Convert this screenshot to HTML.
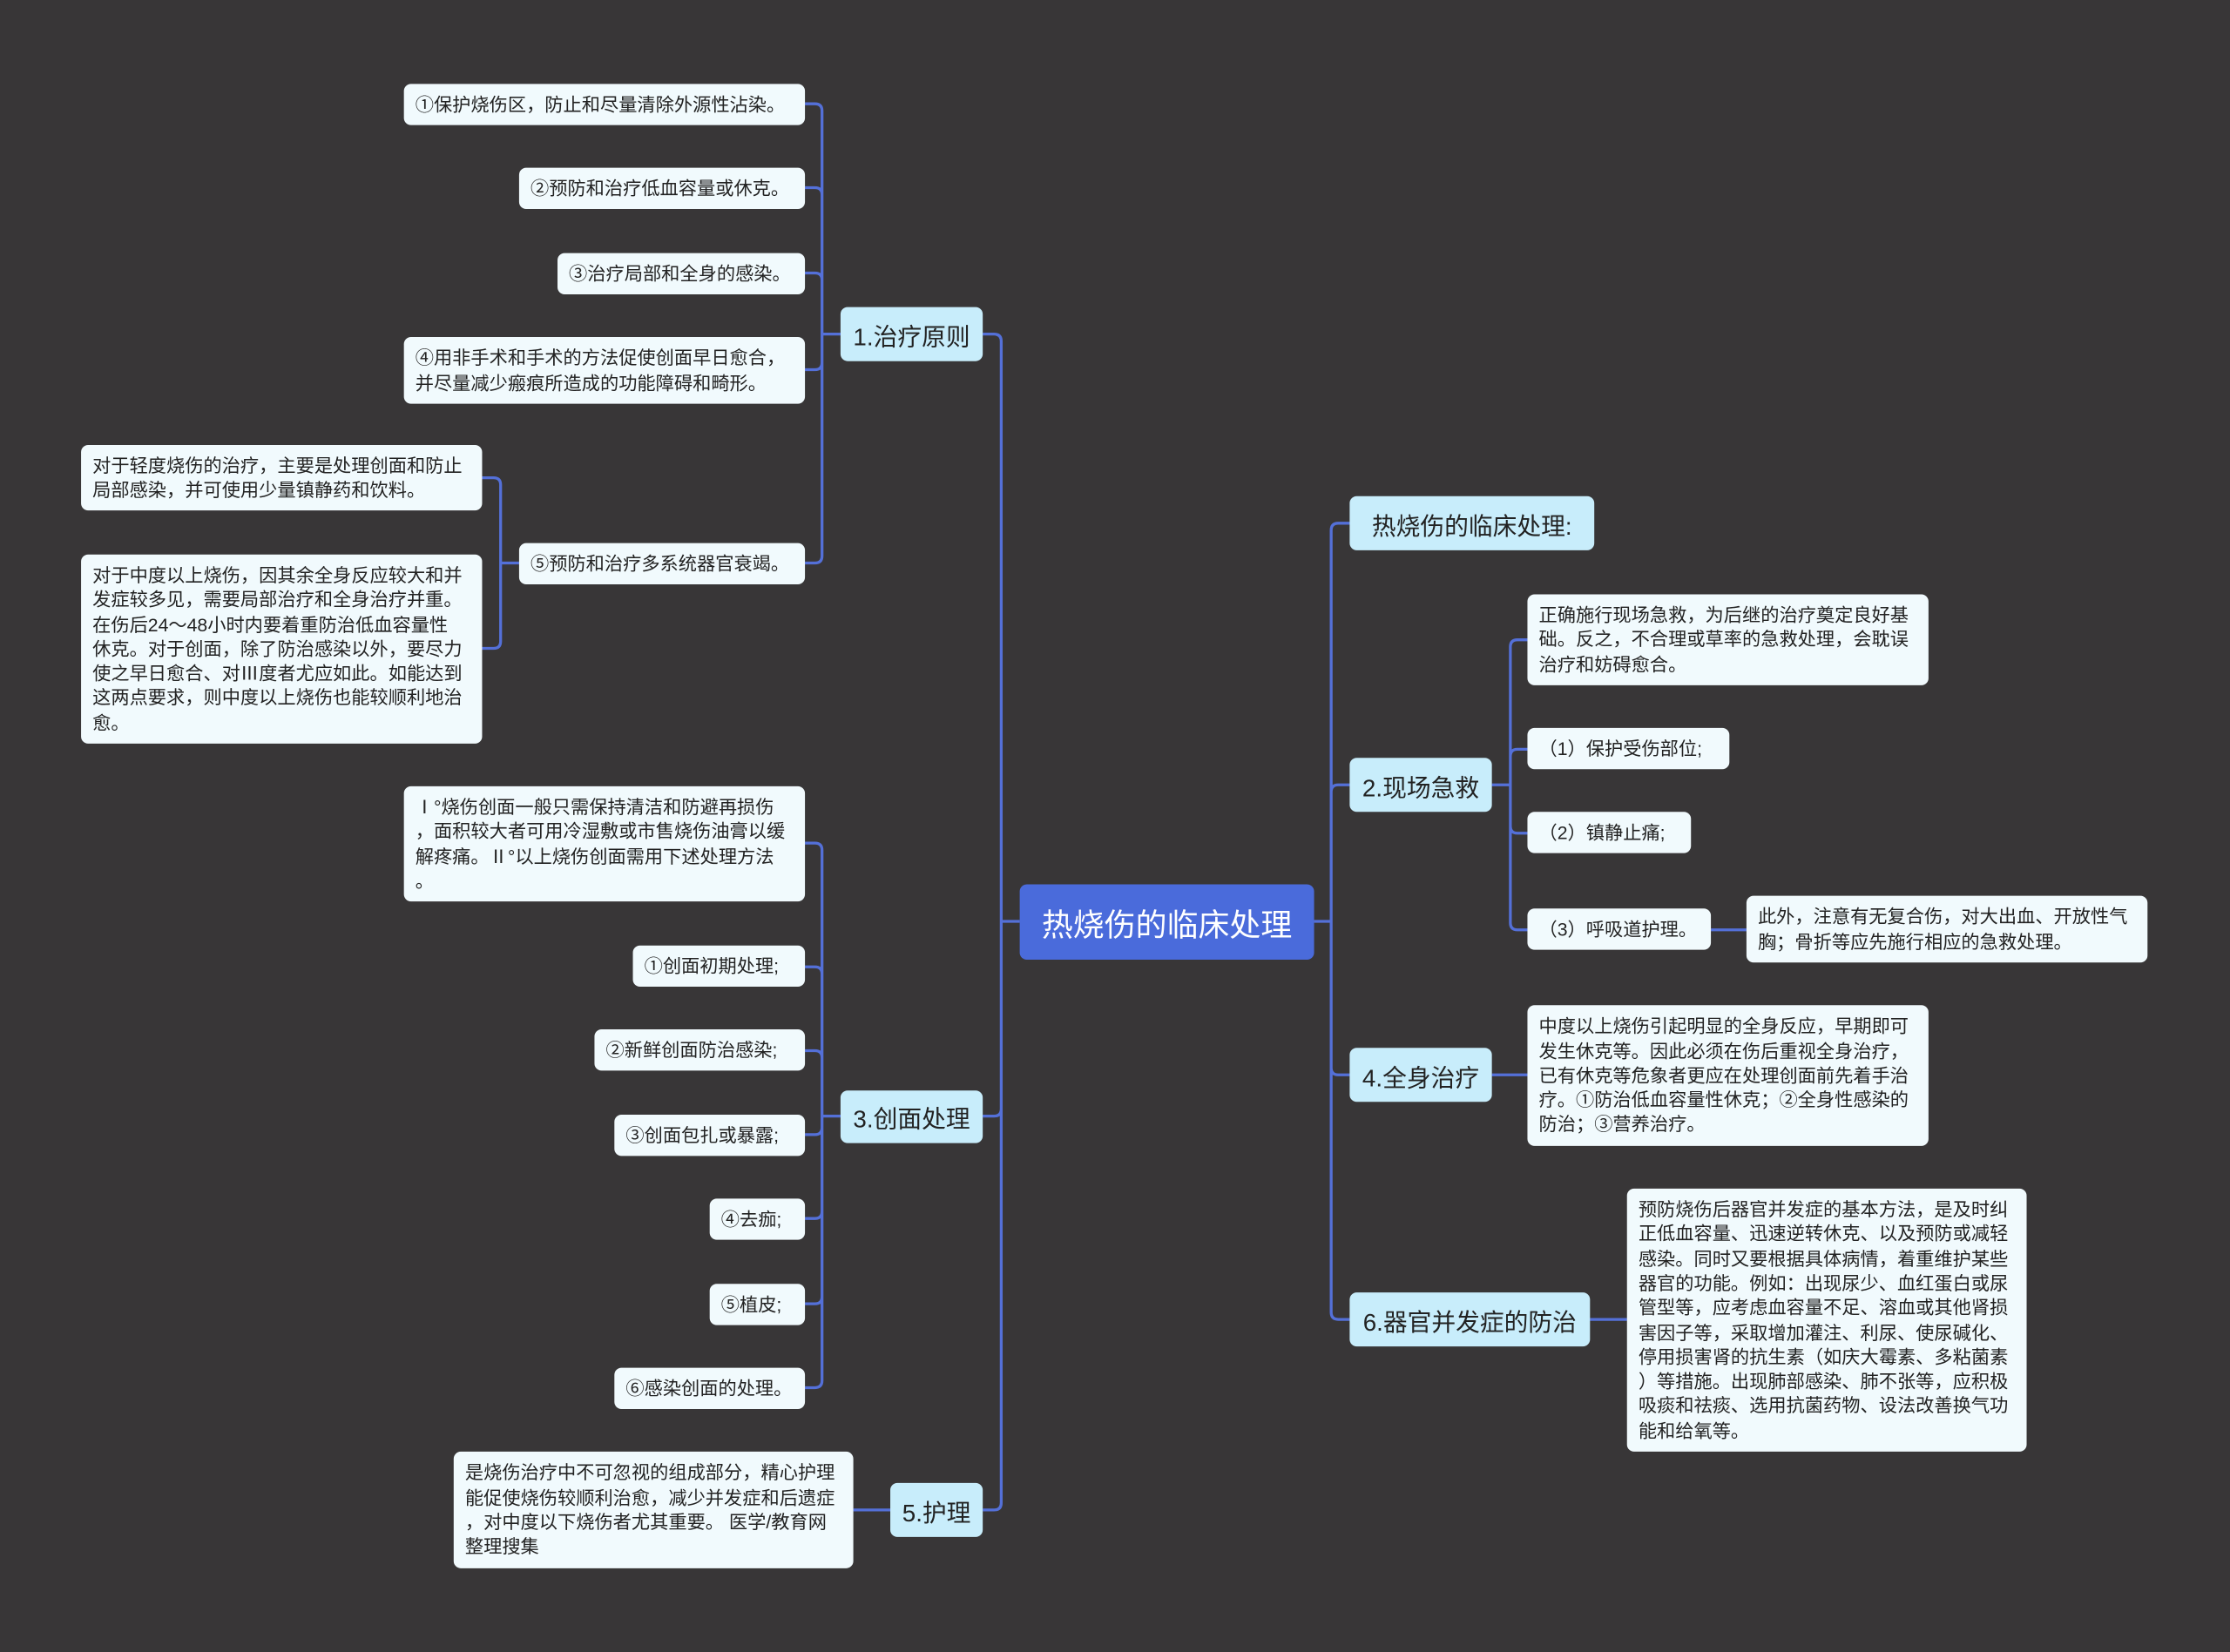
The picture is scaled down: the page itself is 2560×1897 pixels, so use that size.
<!DOCTYPE html>
<html><head><meta charset="utf-8"><style>
html,body{margin:0;padding:0;background:#383637;}
body{width:2560px;height:1896px;overflow:hidden;}
#c{position:absolute;left:0;top:0;width:1568px;height:1162px;transform:scale(1.63265);transform-origin:0 0;font-family:"Liberation Sans","Noto Sans CJK SC",sans-serif;}
.b{position:absolute;box-sizing:border-box;border-radius:5px;color:#222;}
.l{background:#f1fafd;font-size:13px;line-height:17.3px;padding:0 8px;white-space:pre;display:flex;align-items:center;}
.m{background:#c8edfb;font-size:17px;display:flex;align-items:center;justify-content:center;white-space:pre;}
svg{position:absolute;left:0;top:0;}
</style></head><body><div id="c">
<svg width="1568" height="1162" fill="none" stroke="#5470d8" stroke-width="2">
<path d="M591 235H578V78Q578 73 573 73H566M578 78V137Q578 132 573 132H566M578 137V197Q578 192 573 192H566M578 197V255Q578 260 573 260H566M578 255V391Q578 396 573 396H566"/>
<path d="M365 396H352V341Q352 336 347 336H339M352 341V451Q352 456 347 456H339"/>
<path d="M591 785H578V598Q578 593 573 593H566M578 598V685Q578 680 573 680H566M578 685V744Q578 739 573 739H566M578 744V793Q578 798 573 798H566M578 793V852Q578 857 573 857H566M578 852V912Q578 917 573 917H566M578 912V971Q578 976 573 976H566"/>
<path d="M626 1062H600"/>
<path d="M717 648H704V240Q704 235 699 235H691M704 240V780Q704 785 699 785H691M704 780V1057Q704 1062 699 1062H691"/>
<path d="M924 648H936V373Q936 368 941 368H949M936 373V557Q936 552 941 552H949M936 557V751Q936 756 941 756H949M936 751V923Q936 928 941 928H949"/>
<path d="M1049 552H1062V455Q1062 450 1067 450H1074M1062 455V532Q1062 527 1067 527H1074M1062 532V581Q1062 586 1067 586H1074M1062 581V649Q1062 654 1067 654H1074"/>
<path d="M1203 654H1228M1049 756H1074M1118 928H1144"/>
</svg>
<div class="b" style="left:717px;top:622px;width:207px;height:53px;background:#4a6bdb;color:#fff;font-size:22px;display:flex;align-items:center;justify-content:center;">热烧伤的临床处理</div>

<div class="b m" style="left:591px;top:216px;width:100px;height:38px;">1.治疗原则</div>
<div class="b m" style="left:591px;top:767px;width:100px;height:37px;">3.创面处理</div>
<div class="b m" style="left:626px;top:1043px;width:65px;height:38px;">5.护理</div>
<div class="b m" style="left:949px;top:349px;width:172px;height:38px;">热烧伤的临床处理:</div>
<div class="b m" style="left:949px;top:533px;width:100px;height:38px;">2.现场急救</div>
<div class="b m" style="left:949px;top:737px;width:100px;height:38px;">4.全身治疗</div>
<div class="b m" style="left:949px;top:909px;width:169px;height:38px;">6.器官并发症的防治</div>

<div class="b l" style="left:284px;top:59px;width:282px;height:29px;">①保护烧伤区，防止和尽量清除外源性沾染。</div>
<div class="b l" style="left:365px;top:118px;width:201px;height:29px;">②预防和治疗低血容量或休克。</div>
<div class="b l" style="left:392px;top:178px;width:174px;height:29px;">③治疗局部和全身的感染。</div>
<div class="b l" style="left:284px;top:237px;width:282px;height:47px;">④用非手术和手术的方法促使创面早日愈合，
并尽量减少瘢痕所造成的功能障碍和畸形。</div>
<div class="b l" style="left:365px;top:382px;width:201px;height:29px;">⑤预防和治疗多系统器官衰竭。</div>
<div class="b l" style="left:57px;top:313px;width:282px;height:46px;">对于轻度烧伤的治疗，主要是处理创面和防止
局部感染，并可使用少量镇静药和饮料。</div>
<div class="b l" style="left:57px;top:390px;width:282px;height:133px;">对于中度以上烧伤，因其余全身反应较大和并
发症较多见，需要局部治疗和全身治疗并重。
在伤后24～48小时内要着重防治低血容量性
休克。对于创面，除了防治感染以外，要尽力
使之早日愈合、对Ⅲ度者尤应如此。如能达到
这两点要求，则中度以上烧伤也能较顺利地治
愈。</div>

<div class="b l" style="left:284px;top:553px;width:282px;height:81px;">Ⅰ°烧伤创面一般只需保持清洁和防避再损伤
，面积较大者可用冷湿敷或市售烧伤油膏以缓
解疼痛。Ⅱ°以上烧伤创面需用下述处理方法
。</div>
<div class="b l" style="left:445px;top:665px;width:121px;height:29px;">①创面初期处理;</div>
<div class="b l" style="left:418px;top:724px;width:148px;height:29px;">②新鲜创面防治感染;</div>
<div class="b l" style="left:432px;top:784px;width:134px;height:29px;">③创面包扎或暴露;</div>
<div class="b l" style="left:499px;top:843px;width:67px;height:29px;">④去痂;</div>
<div class="b l" style="left:499px;top:903px;width:67px;height:29px;">⑤植皮;</div>
<div class="b l" style="left:432px;top:962px;width:134px;height:29px;">⑥感染创面的处理。</div>
<div class="b l" style="left:319px;top:1021px;width:281px;height:82px;">是烧伤治疗中不可忽视的组成部分，精心护理
能促使烧伤较顺利治愈，减少并发症和后遗症
，对中度以下烧伤者尤其重要。 医学/教育网
整理搜集</div>

<div class="b l" style="left:1074px;top:418px;width:282px;height:64px;">正确施行现场急救，为后继的治疗奠定良好基
础。反之，不合理或草率的急救处理，会耽误
治疗和妨碍愈合。</div>
<div class="b l" style="left:1074px;top:512px;width:142px;height:29px;">（1）保护受伤部位;</div>
<div class="b l" style="left:1074px;top:571px;width:115px;height:29px;">（2）镇静止痛;</div>
<div class="b l" style="left:1074px;top:639px;width:129px;height:29px;">（3）呼吸道护理。</div>
<div class="b l" style="left:1228px;top:630px;width:282px;height:47px;">此外，注意有无复合伤，对大出血、开放性气
胸；骨折等应先施行相应的急救处理。</div>
<div class="b l" style="left:1074px;top:707px;width:282px;height:99px;">中度以上烧伤引起明显的全身反应，早期即可
发生休克等。因此必须在伤后重视全身治疗，
已有休克等危象者更应在处理创面前先着手治
疗。①防治低血容量性休克；②全身性感染的
防治；③营养治疗。</div>
<div class="b l" style="left:1144px;top:836px;width:281px;height:185px;">预防烧伤后器官并发症的基本方法，是及时纠
正低血容量、迅速逆转休克、以及预防或减轻
感染。同时又要根据具体病情，着重维护某些
器官的功能。例如：出现尿少、血红蛋白或尿
管型等，应考虑血容量不足、溶血或其他肾损
害因子等，采取增加灌注、利尿、使尿碱化、
停用损害肾的抗生素（如庆大霉素、多粘菌素
）等措施。出现肺部感染、肺不张等，应积极
吸痰和祛痰、选用抗菌药物、设法改善换气功
能和给氧等。</div>
</div></body></html>
